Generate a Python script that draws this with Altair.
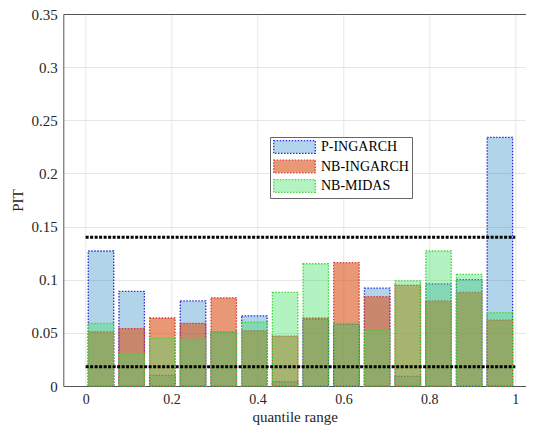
import altair as alt
import pandas as pd

n_bins = 14
series = ["P-INGARCH", "NB-INGARCH", "NB-MIDAS"]
p_ingarch = [0.127, 0.089, 0.010, 0.080, 0.051, 0.066, 0.004, 0.063, 0.058, 0.092, 0.009, 0.096, 0.100, 0.234]
nb_ingarch = [0.051, 0.054, 0.064, 0.059, 0.083, 0.052, 0.047, 0.064, 0.116, 0.084, 0.095, 0.080, 0.088, 0.062]
nb_midas = [0.059, 0.030, 0.045, 0.044, 0.051, 0.060, 0.088, 0.115, 0.059, 0.052, 0.099, 0.127, 0.105, 0.069]
bounds = [0.14, 0.018]
x_ticks = [0, 0.2, 0.4, 0.6, 0.8, 1]
y_ticks = [0, 0.05, 0.1, 0.15, 0.2, 0.25, 0.3, 0.35]

fills = ["#0072BD", "#D95319", "#40DE64"]
alphas = [0.3, 0.6, 0.4]
legend_fills = ["#B3D5EB", "#E89875", "#B3F2C1"]  # the same fills seen over white
strokes = ["#2B2BD9", "#D93A3A", "#3AD93A"]

half = 0.415 / n_bins
rows = []
for name, vals in zip(series, [p_ingarch, nb_ingarch, nb_midas]):
    for i, v in enumerate(vals):
        c = (i + 0.5) / n_bins
        rows.append({"series": name, "x0": c - half, "x1": c + half, "v": v, "o": series.index(name)})
df = pd.DataFrame(rows)

lines_df = pd.DataFrame({"y": bounds, "x0": [0] * len(bounds), "x1": [1] * len(bounds)})
legend_df = pd.DataFrame({"series": series})

FONT = "Liberation Serif"
xs = alt.Scale(domain=[-0.052, 1.0251], nice=False, zero=False)
ys = alt.Scale(domain=[0, 0.35], nice=False)

bars = alt.Chart(df).mark_rect(strokeWidth=1.3, strokeDash=[1.5, 1.5]).encode(
    x=alt.X("x0:Q", scale=xs, axis=alt.Axis(values=x_ticks, format="~g", title="quantile range",
                                            grid=True, labelPadding=6, titlePadding=3,
                                            labelFontSize=14)),
    x2="x1:Q",
    y=alt.Y("v:Q", scale=ys, axis=alt.Axis(values=y_ticks, format="~g", title="PIT",
                                           grid=True, labelPadding=6, titlePadding=6)),
    y2=alt.datum(0),
    fill=alt.Fill("series:N", scale=alt.Scale(domain=series, range=fills), legend=None),
    stroke=alt.Stroke("series:N", scale=alt.Scale(domain=series, range=strokes), legend=None),
    fillOpacity=alt.FillOpacity("series:N", scale=alt.Scale(type="ordinal", domain=series, range=alphas),
                                legend=None),
    order="o:Q",
)

hl = alt.Chart(lines_df).mark_rule(color="black", strokeWidth=3, strokeDash=[3, 1.5]).encode(
    x=alt.X("x0:Q", scale=xs, axis=alt.Axis(orient="top", labels=False, ticks=False, grid=False,
                                            title=None, domain=True)),
    x2="x1:Q",
    y=alt.Y("y:Q", scale=ys),
)

# zero-size carrier marks for the legend only
leg = alt.Chart(legend_df).mark_rect(strokeWidth=1.3, strokeDash=[1.5, 1.5]).encode(
    x=alt.X(datum=0, scale=xs, axis=None), x2=alt.datum(0),
    y=alt.Y(datum=0, scale=ys), y2=alt.datum(0),
    fill=alt.Fill("series:N", scale=alt.Scale(domain=series, range=legend_fills),
                  legend=alt.Legend(orient="none", legendX=206.7, legendY=123, title=None,
                                    symbolType="M-1,-1H5.6V1H-1Z", symbolSize=159,
                                    symbolStrokeWidth=1.3, symbolDash=[1.5, 1.5],
                                    labelFont=FONT, labelFontSize=14, labelColor="black",
                                    strokeColor="#666", fillColor="white", padding=3,
                                    rowPadding=1.5, labelOffset=34)),
    stroke=alt.Stroke("series:N", scale=alt.Scale(domain=series, range=strokes)),
)

chart = alt.layer(bars, hl, leg).resolve_axis(x="independent").resolve_scale(
    fill="independent", stroke="independent"
).properties(
    width=462.7, height=372,
    autosize=alt.AutoSizeParams(type="none"),
    padding={"left": 55.3, "top": 6, "right": 0, "bottom": 39},
).configure_view(stroke=None).configure_axis(
    gridColor="#e6e6e6", gridWidth=1, domainColor="#555", tickSize=0,
    labelFont=FONT, labelFontSize=15, labelColor="#262626",
    titleFont=FONT, titleFontSize=15, titleFontWeight="normal", titleColor="#262626",
)

chart.save("out.html", embed_options={"renderer": "svg", "actions": False})
